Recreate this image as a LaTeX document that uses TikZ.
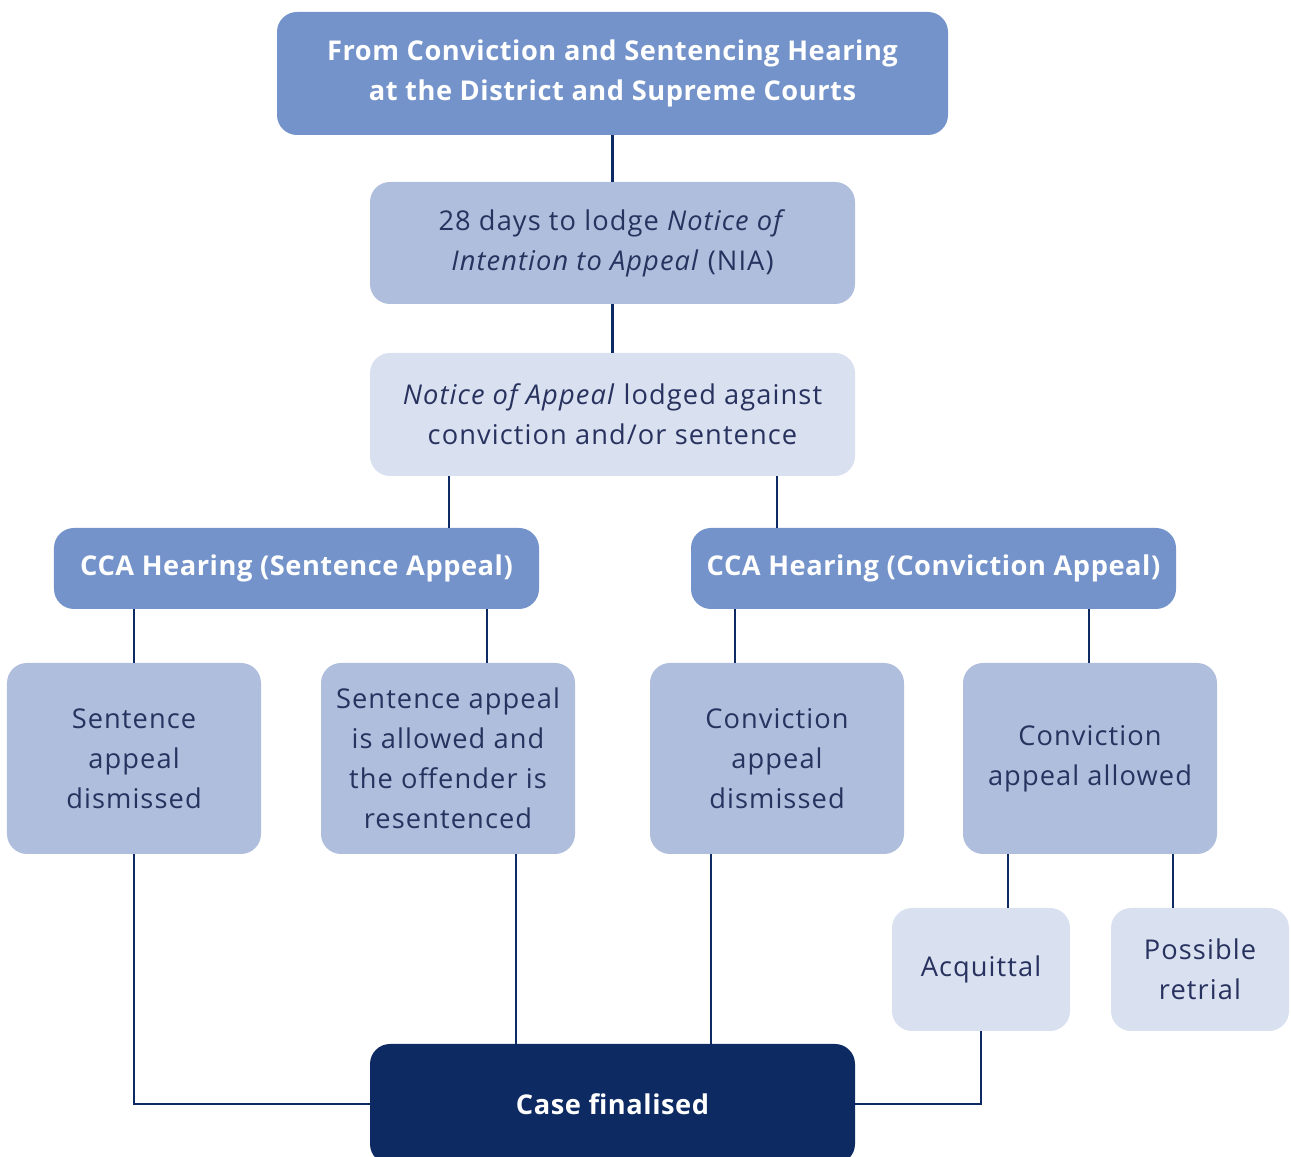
\documentclass[tikz,border=0pt]{standalone}
\usepackage{fontspec}
\setmainfont{Open Sans}[LetterSpace=4, BoldFeatures={LetterSpace=2}]
\usepackage{xcolor}
\usepackage{tikz}

\definecolor{headblue}{RGB}{116,147,202}
\definecolor{midblue}{RGB}{175,190,221}
\definecolor{paleblue}{RGB}{217,224,239}
\definecolor{navy}{RGB}{13,42,98}
\definecolor{inktext}{RGB}{40,50,95}

\begin{document}
\begin{tikzpicture}[
                    box/.style={rounded corners=0.4cm, align=center, inner sep=0pt, text=inktext, font=\fontsize{15.5}{22.8}\selectfont},
                    head/.style={box, fill=headblue, text=white, font=\fontsize{15.5}{22.8}\selectfont\bfseries},
                    mid/.style={box, fill=midblue},
                    pale/.style={box, fill=paleblue},
                    link/.style={draw=navy, line width=1.4pt}]
                    \useasboundingbox (0,0) rectangle (25.82,23.14);

                    \node[head, minimum width=13.42cm, minimum height=2.46cm] (start) at (12.25,21.67) {From Conviction and Sentencing Hearing\\at the District and Supreme Courts};
                    \node[mid, minimum width=9.7cm, minimum height=2.44cm] (nia) at (12.25,18.28) {28 days to lodge \textit{Notice of}\\\textit{Intention to Appeal} (NIA)};
                    \node[pale, minimum width=9.7cm, minimum height=2.46cm] (noa) at (12.25,14.85) {\textit{Notice of Appeal} lodged against\\conviction and/or sentence};

                    \node[head, minimum width=9.7cm, minimum height=1.62cm] (ccasent) at (5.93,11.77) {CCA Hearing (Sentence Appeal)};
                    \node[head, minimum width=9.7cm, minimum height=1.62cm] (ccaconv) at (18.67,11.77) {CCA Hearing (Conviction Appeal)};

                    \node[mid, minimum width=5.08cm, minimum height=3.82cm] (sentdis) at (2.68,7.97) {Sentence\\appeal\\dismissed};
                    \node[mid, minimum width=5.08cm, minimum height=3.82cm] (sentall) at (8.96,7.97) {Sentence appeal\\is allowed and\\the offender is\\resentenced};
                    \node[mid, minimum width=5.08cm, minimum height=3.82cm] (convdis) at (15.54,7.97) {Conviction\\appeal\\dismissed};
                    \node[mid, minimum width=5.08cm, minimum height=3.82cm] (convall) at (21.8,7.97) {Conviction\\appeal allowed};

                    \node[pale, minimum width=3.56cm, minimum height=2.46cm] (acq) at (19.62,3.75) {Acquittal};
                    \node[pale, minimum width=3.56cm, minimum height=2.46cm] (retrial) at (24.0,3.75) {Possible\\retrial};

                    \node[box, fill=navy, text=white, font=\fontsize{15.5}{22.8}\selectfont\bfseries, minimum width=9.7cm, minimum height=2.4cm] (final) at (12.25,1.06) {Case finalised};

                    \coordinate (xa) at (8.98,0);
                    \coordinate (xb) at (15.54,0);
                    \coordinate (xc) at (9.74,0);
                    \coordinate (xd) at (14.7,0);
                    \coordinate (xe) at (21.78,0);
                    \coordinate (xf) at (20.16,0);
                    \coordinate (xg) at (23.46,0);
                    \coordinate (xh) at (10.32,0);
                    \coordinate (xi) at (14.22,0);

                    \draw[link] (start) -- (nia);
                    \draw[link] (nia) -- (noa);
                    \draw[link] (noa.south -| xa) -- (ccasent.north -| xa);
                    \draw[link] (noa.south -| xb) -- (ccaconv.north -| xb);
                    \draw[link] (ccasent.south -| sentdis.north) -- (sentdis.north);
                    \draw[link] (ccasent.south -| xc) -- (sentall.north -| xc);
                    \draw[link] (ccaconv.south -| xd) -- (convdis.north -| xd);
                    \draw[link] (ccaconv.south -| xe) -- (convall.north -| xe);
                    \draw[link] (convall.south -| xf) -- (acq.north -| xf);
                    \draw[link] (convall.south -| xg) -- (retrial.north -| xg);
                    \draw[link] (sentdis.south) |- (final.west);
                    \draw[link] (sentall.south -| xh) -- (final.north -| xh);
                    \draw[link] (convdis.south -| xi) -- (final.north -| xi);
                    \draw[link] (acq.south) |- (final.east);
                \end{tikzpicture}
\end{document}
